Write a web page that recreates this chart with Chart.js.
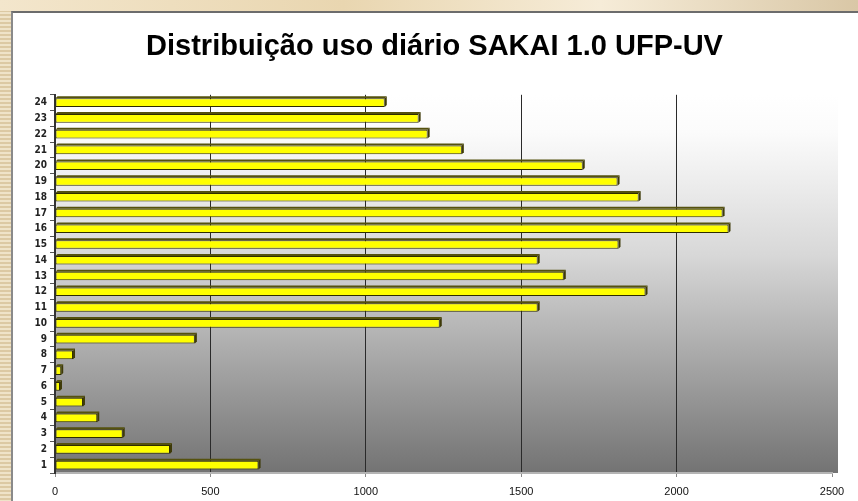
<!DOCTYPE html>
<html>
<head>
<meta charset="utf-8">
<script src="https://cdn.jsdelivr.net/npm/chart.js@4.4.1/dist/chart.umd.min.js"></script>
<style>
  html, body { margin: 0; padding: 0; }
  body {
    width: 858px; height: 501px; overflow: hidden; position: relative;
    background: repeating-linear-gradient(180deg, #efe3c8 0px, #efe3c8 2px, #dcc9a3 2px, #dcc9a3 4px);
  }
  #topo {
    position: absolute; left: 0; top: 0; width: 858px; height: 11px;
    background: linear-gradient(90deg, #f3e6cc 0%, #e9d6b0 40%, #f6ecd8 70%, #d9c7a6 100%);
  }
  #moldura {
    position: absolute; left: 11px; top: 11px; width: 847px; height: 490px;
    border-top: 2px solid #6c6c6c; border-left: 2px solid #8a8a8a;
    background: #fff; box-sizing: border-box;
  }
  #grafico { display: block; }
</style>
</head>
<body>
<div id="topo"></div>
<div id="moldura">
  <canvas id="grafico" width="845" height="488"></canvas>
</div>
<script>
// Dados do gráfico
const horas = ['1','2','3','4','5','6','7','8','9','10','11','12','13','14','15','16','17','18','19','20','21','22','23','24'];
const acessos = [655, 370, 218, 136, 90, 16, 20, 58, 450, 1238, 1553, 1900, 1637, 1553, 1813, 2167, 2148, 1878, 1810, 1698, 1309, 1199, 1170, 1061];
const ticksX = [0, 500, 1000, 1500, 2000, 2500];
const titulo = 'Distribuição uso diário SAKAI 1.0 UFP-UV';

// Fundo em degradê da área do gráfico
const fundoDegrade = {
  id: 'fundoDegrade',
  beforeDraw(chart) {
    const { ctx, chartArea: a } = chart;
    const g = ctx.createLinearGradient(0, a.top, 0, a.bottom);
    g.addColorStop(0, '#ffffff');
    g.addColorStop(0.1, '#fbfbfb');
    g.addColorStop(0.42, '#d8d8d8');
    g.addColorStop(0.8, '#969696');
    g.addColorStop(1, '#737373');
    ctx.save();
    ctx.fillStyle = g;
    ctx.fillRect(a.left, a.top, a.right - a.left + 6, a.bottom - a.top);
    ctx.restore();
  }
};

// Desloca o título um pouco para a direita
const ajusteTitulo = {
  id: 'ajusteTitulo',
  afterLayout(chart) {
    const t = chart.titleBlock;
    if (t) { t.left += 12; t.right += 12; }
  }
};

// Efeito 3D das barras (faces de topo e lateral)
const barras3d = {
  id: 'barras3d',
  beforeDatasetsDraw(chart) {
    const ctx = chart.ctx;
    const d = 2;
    chart.getDatasetMeta(0).data.forEach(bar => {
      const top = bar.y - bar.height / 2;
      const bottom = bar.y + bar.height / 2;
      ctx.save();
      ctx.fillStyle = '#55520e';
      ctx.beginPath();
      ctx.moveTo(bar.base, top);
      ctx.lineTo(bar.x, top);
      ctx.lineTo(bar.x + d, top - d);
      ctx.lineTo(bar.base + d, top - d);
      ctx.closePath();
      ctx.fill();
      ctx.fillStyle = '#3e3a08';
      ctx.beginPath();
      ctx.moveTo(bar.x, top);
      ctx.lineTo(bar.x + d, top - d);
      ctx.lineTo(bar.x + d, bottom - d);
      ctx.lineTo(bar.x, bottom);
      ctx.closePath();
      ctx.fill();
      ctx.restore();
    });
  }
};

const ctx = document.getElementById('grafico').getContext('2d');
new Chart(ctx, {
  type: 'bar',
  data: {
    labels: horas,
    datasets: [{
      data: acessos,
      backgroundColor: '#ffff00',
      borderColor: '#2e2c00',
      borderWidth: 1,
      borderSkipped: false,
      barPercentage: 0.55,
      categoryPercentage: 1
    }]
  },
  options: {
    indexAxis: 'y',
    responsive: false,
    animation: false,
    layout: { padding: { left: 0, right: 26, top: 0, bottom: 0 } },
    plugins: {
      legend: { display: false },
      tooltip: { enabled: false },
      title: {
        display: true,
        text: titulo,
        color: '#000',
        font: { family: '"Liberation Sans", Arial', size: 29, weight: 'bold' },
        padding: { top: 17, bottom: 30 }
      }
    },
    scales: {
      x: {
        min: 0,
        max: 2500,
        afterBuildTicks(scale) { scale.ticks = ticksX.map(v => ({ value: v })); },
        afterFit(scale) { scale.height = 28; },
        border: { display: true, color: '#b4b4b4', width: 2 },
        grid: {
          color: c => (c.tick && (c.tick.value === 0 || c.tick.value === 2500)) ? 'rgba(0,0,0,0)' : '#2a2a2a',
          tickColor: '#888',
          tickLength: 4,
          lineWidth: 1
        },
        ticks: {
          color: '#111',
          padding: 8,
          callback: v => String(v),
          font: { family: '"Liberation Sans", Arial', size: 11 }
        }
      },
      y: {
        reverse: true,
        offset: true,
        afterFit(scale) { scale.width = 42; },
        border: { display: true, color: '#333', width: 2 },
        grid: {
          offset: true,
          drawOnChartArea: false,
          tickColor: '#555',
          tickLength: 5
        },
        ticks: {
          color: '#222',
          padding: 3,
          autoSkip: false,
          font: { family: '"DejaVu Sans Condensed", "DejaVu Sans", Arial', size: 10, weight: 'bold' }
        }
      }
    }
  },
  plugins: [fundoDegrade, ajusteTitulo, barras3d]
});
</script>
</body>
</html>
